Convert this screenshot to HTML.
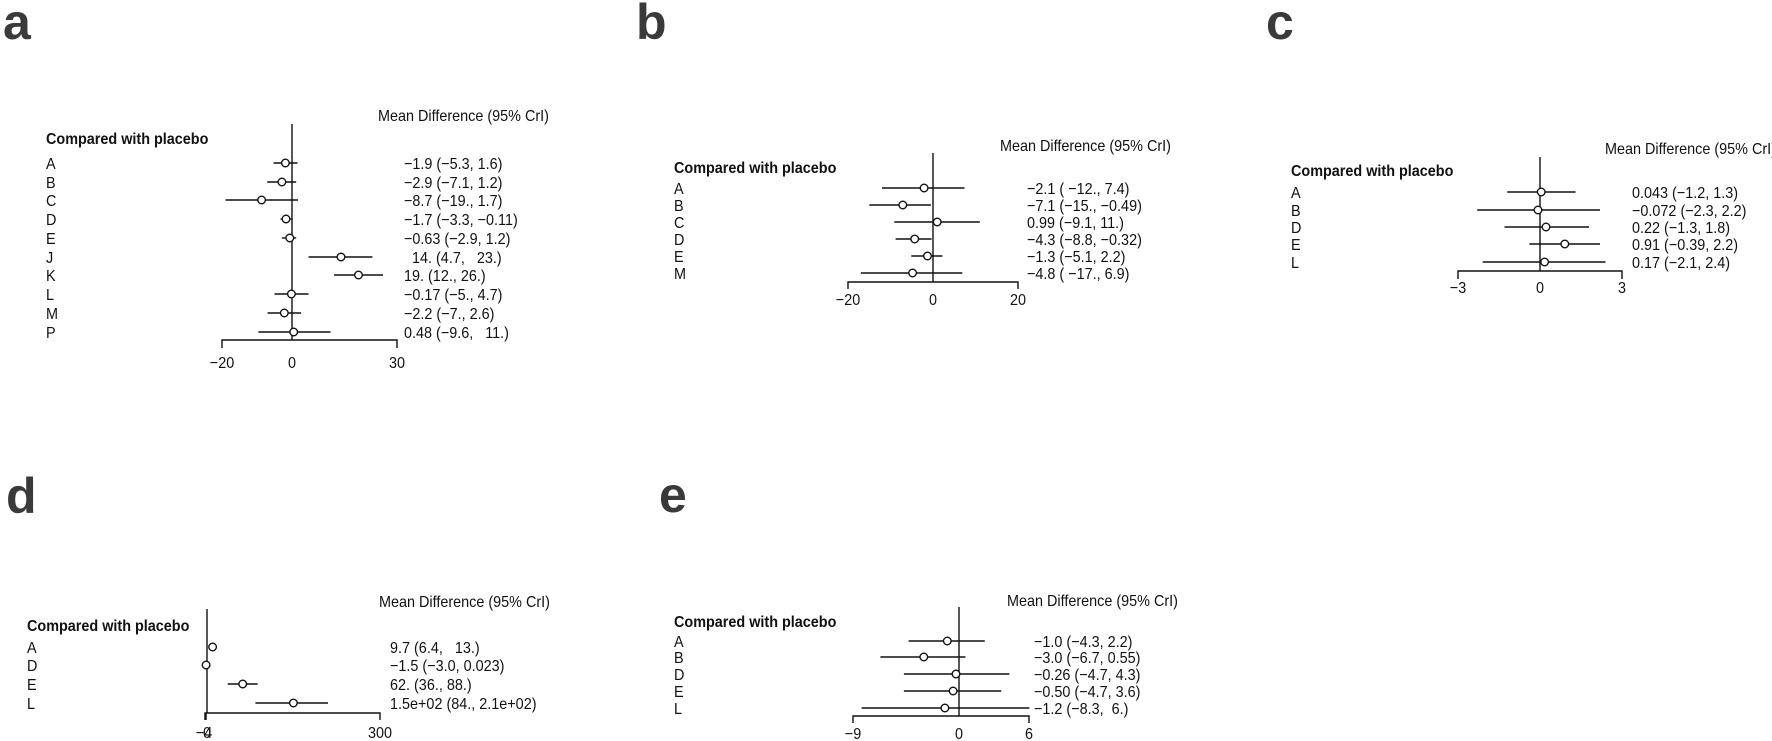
<!DOCTYPE html>
<html><head><meta charset="utf-8"><style>
html,body{margin:0;padding:0;background:#fff;}
svg{display:block;}
text{font-family:"Liberation Sans",Arial,sans-serif;fill:#111;}
.L{font-size:50px;font-weight:bold;fill:#3a3a3a;}
</style></head><body>
<svg width="1772" height="741" viewBox="0 0 1772 741" xmlns="http://www.w3.org/2000/svg">
<g stroke="#111" stroke-width="1.4" fill="none">
<!-- panel a -->
<line x1="292" y1="124" x2="292" y2="340"/>
<path d="M222 348V340H397V348"/>
<line x1="273.5" y1="163" x2="297.6" y2="163"/>
<line x1="267.2" y1="182" x2="296.2" y2="182"/>
<line x1="225.5" y1="200" x2="298" y2="200"/>
<line x1="280.5" y1="219" x2="291.6" y2="219"/>
<line x1="281.9" y1="238" x2="296.2" y2="238"/>
<line x1="308.5" y1="257" x2="372.5" y2="257"/>
<line x1="334" y1="275" x2="383" y2="275"/>
<line x1="274.5" y1="294" x2="308.5" y2="294"/>
<line x1="267.5" y1="313" x2="301.1" y2="313"/>
<line x1="258.4" y1="332" x2="330.5" y2="332"/>
<!-- panel b -->
<line x1="933" y1="153" x2="933" y2="282"/>
<path d="M848 289V282H1018V289"/>
<line x1="882" y1="188" x2="964.5" y2="188"/>
<line x1="869.3" y1="205" x2="930.9" y2="205"/>
<line x1="894.3" y1="222" x2="979.8" y2="222"/>
<line x1="895.6" y1="239" x2="931.6" y2="239"/>
<line x1="911.3" y1="256" x2="942.4" y2="256"/>
<line x1="860.8" y1="273" x2="962.3" y2="273"/>
<!-- panel c -->
<line x1="1540" y1="157" x2="1540" y2="271"/>
<path d="M1458 279V271H1622V279"/>
<line x1="1507.2" y1="192" x2="1575.5" y2="192"/>
<line x1="1477.2" y1="210" x2="1600" y2="210"/>
<line x1="1504.5" y1="227" x2="1589" y2="227"/>
<line x1="1529.4" y1="244" x2="1600" y2="244"/>
<line x1="1482.7" y1="262" x2="1605.5" y2="262"/>
<!-- panel d -->
<line x1="207" y1="609" x2="207" y2="713"/>
<path d="M205 720V713H380V720"/>
<line x1="206" y1="713" x2="206" y2="720"/>
<line x1="227.7" y1="684" x2="257.7" y2="684"/>
<line x1="255.4" y1="703" x2="328" y2="703"/>
<!-- panel e -->
<line x1="959" y1="607" x2="959" y2="716"/>
<path d="M853 723V716H1029V723"/>
<line x1="908.6" y1="641" x2="984.8" y2="641"/>
<line x1="880.4" y1="657" x2="965.5" y2="657"/>
<line x1="903.9" y1="674" x2="1009.4" y2="674"/>
<line x1="903.9" y1="691" x2="1001.2" y2="691"/>
<line x1="861.6" y1="708" x2="1029.4" y2="708"/>
</g>
<g stroke="#111" stroke-width="1.4" fill="#fff">
<circle cx="285.4" cy="163" r="3.8"/><circle cx="281.9" cy="182" r="3.8"/><circle cx="261.6" cy="200" r="3.8"/>
<circle cx="286" cy="219" r="3.8"/><circle cx="289.8" cy="238" r="3.8"/><circle cx="341" cy="257" r="3.8"/>
<circle cx="358.5" cy="275" r="3.8"/><circle cx="291.4" cy="294" r="3.8"/><circle cx="284.3" cy="313" r="3.8"/>
<circle cx="293.7" cy="332" r="3.8"/>
<circle cx="924.1" cy="188" r="3.8"/><circle cx="902.8" cy="205" r="3.8"/><circle cx="937.2" cy="222" r="3.8"/>
<circle cx="914.7" cy="239" r="3.8"/><circle cx="927.5" cy="256" r="3.8"/><circle cx="912.6" cy="273" r="3.8"/>
<circle cx="1541.2" cy="192" r="3.8"/><circle cx="1538" cy="210" r="3.8"/><circle cx="1546" cy="227" r="3.8"/>
<circle cx="1564.8" cy="244" r="3.8"/><circle cx="1544.6" cy="262" r="3.8"/>
<circle cx="212.6" cy="647" r="3.8"/><circle cx="206.1" cy="665" r="3.8"/><circle cx="242.7" cy="684" r="3.8"/><circle cx="293.4" cy="703" r="3.8"/>
<circle cx="947.3" cy="641" r="3.8"/><circle cx="923.8" cy="657" r="3.8"/><circle cx="956" cy="674" r="3.8"/>
<circle cx="953.1" cy="691" r="3.8"/><circle cx="944.9" cy="708" r="3.8"/>
</g>
<!-- panel letters -->
<text class="L" x="3" y="39">a</text>
<text class="L" x="636" y="39">b</text>
<text class="L" x="1266" y="39">c</text>
<text class="L" x="6" y="513">d</text>
<text class="L" x="659" y="512">e</text>

<g font-size="16">
<!-- panel a text -->
<g transform="translate(378,121) scale(0.9,1)"><text>Mean Difference (95% CrI)</text></g>
<g transform="translate(46,144) scale(0.9,1)"><text font-weight="bold">Compared with placebo</text></g>
<g transform="translate(46,0) scale(0.9,1)">
<text y="169">A</text><text y="188">B</text><text y="206">C</text><text y="225">D</text><text y="244">E</text>
<text y="263">J</text><text y="281">K</text><text y="300">L</text><text y="319">M</text><text y="338">P</text>
</g>
<g transform="translate(404,0) scale(0.9,1)">
<text y="169">−1.9 (−5.3, 1.6)</text>
<text y="188">−2.9 (−7.1, 1.2)</text>
<text y="206">−8.7 (−19., 1.7)</text>
<text y="225">−1.7 (−3.3, −0.11)</text>
<text y="244">−0.63 (−2.9, 1.2)</text>
<text y="263" xml:space="preserve">  14. (4.7,   23.)</text>
<text y="281">19. (12., 26.)</text>
<text y="300">−0.17 (−5., 4.7)</text>
<text y="319">−2.2 (−7., 2.6)</text>
<text y="338" xml:space="preserve">0.48 (−9.6,   11.)</text>
</g>
<g text-anchor="middle">
<g transform="translate(222,368) scale(0.9,1)"><text>−20</text></g>
<g transform="translate(292,368) scale(0.9,1)"><text>0</text></g>
<g transform="translate(397,368) scale(0.9,1)"><text>30</text></g>
</g>

<!-- panel b text -->
<g transform="translate(1000,151) scale(0.9,1)"><text>Mean Difference (95% CrI)</text></g>
<g transform="translate(674,173) scale(0.9,1)"><text font-weight="bold">Compared with placebo</text></g>
<g transform="translate(674,0) scale(0.9,1)">
<text y="194">A</text><text y="211">B</text><text y="228">C</text><text y="245">D</text><text y="262">E</text><text y="279">M</text>
</g>
<g transform="translate(1027,0) scale(0.9,1)">
<text y="194">−2.1 ( −12., 7.4)</text>
<text y="211">−7.1 (−15., −0.49)</text>
<text y="228">0.99 (−9.1, 11.)</text>
<text y="245">−4.3 (−8.8, −0.32)</text>
<text y="262">−1.3 (−5.1, 2.2)</text>
<text y="279">−4.8 ( −17., 6.9)</text>
</g>
<g text-anchor="middle">
<g transform="translate(848,305) scale(0.9,1)"><text>−20</text></g>
<g transform="translate(933,305) scale(0.9,1)"><text>0</text></g>
<g transform="translate(1018,305) scale(0.9,1)"><text>20</text></g>
</g>

<!-- panel c text -->
<g transform="translate(1605,154) scale(0.9,1)"><text>Mean Difference (95% CrI)</text></g>
<g transform="translate(1291,176) scale(0.9,1)"><text font-weight="bold">Compared with placebo</text></g>
<g transform="translate(1291,0) scale(0.9,1)">
<text y="198">A</text><text y="216">B</text><text y="233">D</text><text y="250">E</text><text y="268">L</text>
</g>
<g transform="translate(1632,0) scale(0.9,1)">
<text y="198">0.043 (−1.2, 1.3)</text>
<text y="216">−0.072 (−2.3, 2.2)</text>
<text y="233">0.22 (−1.3, 1.8)</text>
<text y="250">0.91 (−0.39, 2.2)</text>
<text y="268">0.17 (−2.1, 2.4)</text>
</g>
<g text-anchor="middle">
<g transform="translate(1458,293) scale(0.9,1)"><text>−3</text></g>
<g transform="translate(1540,293) scale(0.9,1)"><text>0</text></g>
<g transform="translate(1622,293) scale(0.9,1)"><text>3</text></g>
</g>

<!-- panel d text -->
<g transform="translate(379,607) scale(0.9,1)"><text>Mean Difference (95% CrI)</text></g>
<g transform="translate(27,631) scale(0.9,1)"><text font-weight="bold">Compared with placebo</text></g>
<g transform="translate(27,0) scale(0.9,1)">
<text y="653">A</text><text y="671">D</text><text y="690">E</text><text y="709">L</text>
</g>
<g transform="translate(390,0) scale(0.9,1)">
<text y="653" xml:space="preserve">9.7 (6.4,   13.)</text>
<text y="671">−1.5 (−3.0, 0.023)</text>
<text y="690">62. (36., 88.)</text>
<text y="709">1.5e+02 (84., 2.1e+02)</text>
</g>
<g text-anchor="middle">
<g transform="translate(204,738) scale(0.9,1)"><text>−4</text></g>
<g transform="translate(207,738) scale(0.9,1)"><text>0</text></g>
<g transform="translate(380,738) scale(0.9,1)"><text>300</text></g>
</g>

<!-- panel e text -->
<g transform="translate(1007,606) scale(0.9,1)"><text>Mean Difference (95% CrI)</text></g>
<g transform="translate(674,627) scale(0.9,1)"><text font-weight="bold">Compared with placebo</text></g>
<g transform="translate(674,0) scale(0.9,1)">
<text y="647">A</text><text y="663">B</text><text y="680">D</text><text y="697">E</text><text y="714">L</text>
</g>
<g transform="translate(1034,0) scale(0.9,1)">
<text y="647">−1.0 (−4.3, 2.2)</text>
<text y="663">−3.0 (−6.7, 0.55)</text>
<text y="680">−0.26 (−4.7, 4.3)</text>
<text y="697">−0.50 (−4.7, 3.6)</text>
<text y="714" xml:space="preserve">−1.2 (−8.3,  6.)</text>
</g>
<g text-anchor="middle">
<g transform="translate(853,739) scale(0.9,1)"><text>−9</text></g>
<g transform="translate(959,739) scale(0.9,1)"><text>0</text></g>
<g transform="translate(1029,739) scale(0.9,1)"><text>6</text></g>
</g>
</g>
</svg>
</body></html>
